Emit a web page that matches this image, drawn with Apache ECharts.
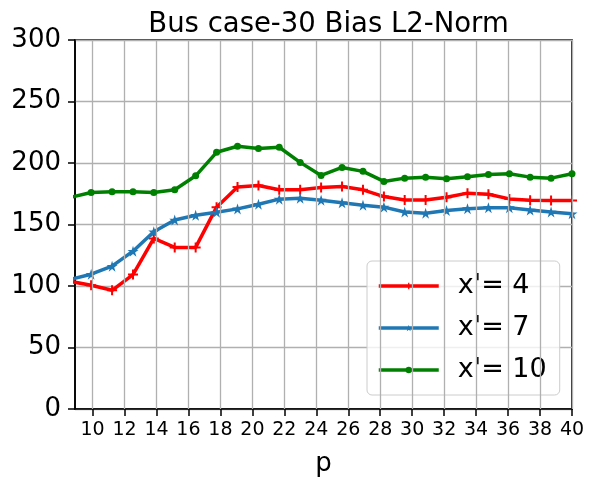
<!DOCTYPE html>
<html>
<head>
<meta charset="utf-8">
<script src="https://cdn.jsdelivr.net/npm/echarts@6/dist/echarts.min.js"></script>
<style>html,body{margin:0;padding:0;background:#fff}#c{width:595px;height:486px}</style>
</head>
<body>
<div id="c"></div>
<script>
var titleText = 'Bus case-30 Bias L2-Norm';
var xName = 'p';
var seriesNames = ["x'= 4", "x'= 7", "x'= 10"];
var pValues = [8.6, 9.91, 11.22, 12.53, 13.83, 15.14, 16.45, 17.76, 19.07, 20.38, 21.68, 22.99, 24.3, 25.61, 26.92, 28.23, 29.53, 30.84, 32.15, 33.46, 34.77, 36.08, 37.38, 38.69, 40.0];
var redValues = [103.8, 100.6, 96.5, 109.3, 138.7, 131.4, 131.4, 164.1, 180.4, 181.7, 178.2, 178.2, 180, 180.9, 178.2, 172.7, 170, 170, 172.2, 175.5, 174.6, 170.8, 169.8, 169.5, 169.5];
var blueValues = [105.3, 109.6, 116.1, 128.3, 144.1, 153.7, 157.5, 160, 162.7, 166.5, 170.6, 171.4, 169.8, 167.6, 165.7, 164.1, 160.2, 159.2, 161.3, 162.9, 163.7, 163.7, 161.8, 160.2, 158.8];
var greenValues = [172.1, 176, 176.6, 176.6, 176, 178.2, 189.6, 208.7, 213.6, 211.7, 212.8, 200.5, 189.9, 196.4, 193.2, 185, 187.7, 188.5, 187.2, 188.8, 190.7, 191.3, 188.5, 187.7, 191.3];
var xTicks = [10, 12, 14, 16, 18, 20, 22, 24, 26, 28, 30, 32, 34, 36, 38, 40];
var yTicks = [0, 50, 100, 150, 200, 250, 300];

function pairs(ys) { return pValues.map(function (x, i) { return [x, ys[i]]; }); }

var plusSym = 'path://M4,0 H6 V4 H10 V6 H6 V10 H4 V6 H0 V4 H4 Z';
var starSym = 'path://M50,0 L61.8,35.4 L100,35.4 L69.1,57.3 L80.9,92.7 L50,70.8 L19.1,92.7 L30.9,57.3 L0,35.4 L38.2,35.4 Z';
var font = 'DejaVu Sans';

var chart = echarts.init(document.getElementById('c'), null, {renderer: 'canvas'});
var option = {
  animation: false,
  backgroundColor: '#fff',
  title: {
    text: titleText, left: 323.5, top: 6, textAlign: 'center',
    textStyle: {fontFamily: font, fontSize: 27.5, fontWeight: 'normal', color: '#000'}
  },
  grid: {left: 75, right: 23, top: 40, bottom: 77, containLabel: false, show: true, borderColor: '#000', borderWidth: 1.6, backgroundColor: 'transparent'},
  xAxis: {
    type: 'value', min: 8.9, max: 40,
    name: xName, nameLocation: 'middle', nameGap: 42,
    nameTextStyle: {fontFamily: font, fontSize: 26, color: '#000'},
    axisLine: {show: true, lineStyle: {color: '#000', width: 1.6}},
    axisTick: {show: true, customValues: xTicks, length: 7, inside: false, lineStyle: {color: '#000', width: 1.5}},
    axisLabel: {customValues: xTicks, fontFamily: font, fontSize: 19, color: '#000', margin: 12},
    splitLine: {show: false}
  },
  yAxis: {
    type: 'value', min: 0, max: 300, interval: 50,
    axisLine: {show: true, lineStyle: {color: '#000', width: 1.6}},
    axisTick: {show: true, length: 7, lineStyle: {color: '#000', width: 1.5}},
    axisLabel: {fontFamily: font, fontSize: 26, color: '#000', margin: 14},
    splitLine: {show: true, lineStyle: {color: '#b0b0b0', width: 1.3}}
  },
  legend: {
    orient: 'vertical', left: 367, top: 261, width: 180,
    padding: [10, 13, 10, 10], itemGap: 12, itemWidth: 60, itemHeight: 8,
    backgroundColor: 'rgba(255,255,255,0.8)', borderColor: '#cccccc', borderWidth: 1, borderRadius: 5,
    lineStyle: {width: 3.5},
    textStyle: {fontFamily: font, fontSize: 27, color: '#000', lineHeight: 30, padding: [0, 0, 0, 14]},
    data: seriesNames
  },
  series: [
    {
      name: 'grid', type: 'line', data: [], silent: true, z: 1,
      markLine: {
        silent: true, symbol: 'none', label: {show: false},
        lineStyle: {color: '#b0b0b0', width: 1.3, type: 'solid'},
        data: xTicks.map(function (v) { return {xAxis: v}; })
      }
    },
    {
      name: seriesNames[0], type: 'line', data: pairs(redValues), z: 3,
      color: '#ff0000', symbol: plusSym, symbolSize: 10, showSymbol: true,
      lineStyle: {width: 3.5, color: '#ff0000'}, itemStyle: {color: '#ff0000'}
    },
    {
      name: seriesNames[1], type: 'line', data: pairs(blueValues), z: 4,
      color: '#1f77b4', symbol: starSym, symbolSize: 11, showSymbol: true,
      lineStyle: {width: 3.5, color: '#1f77b4'}, itemStyle: {color: '#1f77b4'}
    },
    {
      name: seriesNames[2], type: 'line', data: pairs(greenValues), z: 5,
      color: '#008000', symbol: 'circle', symbolSize: 7, showSymbol: true,
      lineStyle: {width: 3.5, color: '#008000'}, itemStyle: {color: '#008000'}
    }
  ]
};
chart.setOption(option);
</script>
</body>
</html>
